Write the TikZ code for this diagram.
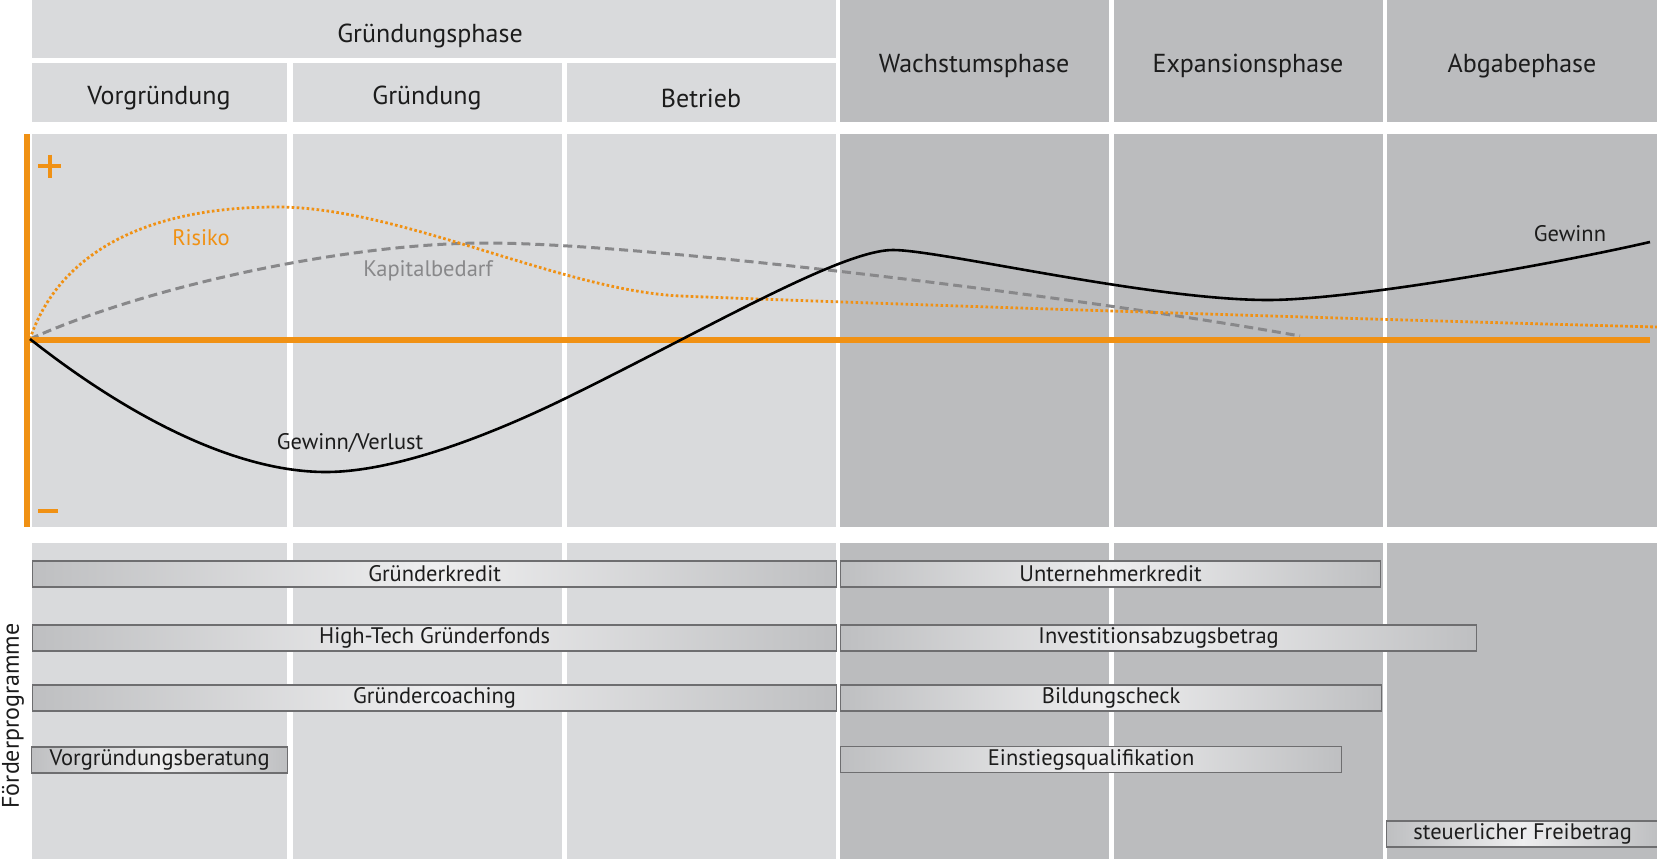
\documentclass[tikz,border=0pt]{standalone}
\usepackage{fontspec}
\setmainfont{PT Sans}
\definecolor{lightcol}{RGB}{217,218,220}
\definecolor{darkcol}{RGB}{187,188,190}
\definecolor{orng}{RGB}{240,145,20}
\definecolor{kgray}{RGB}{136,136,138}
\definecolor{txt}{RGB}{28,28,28}
\definecolor{barend}{RGB}{190,191,193}
\definecolor{barmid}{RGB}{238,238,239}
\definecolor{barline}{RGB}{110,110,112}
\begin{document}
\begin{tikzpicture}[x=1pt,y=-1pt,
  hdr/.style={text=txt,font=\fontsize{26}{28}\selectfont,inner sep=0},
  lbl/.style={font=\fontsize{22.5}{24}\selectfont,inner sep=0},
  bar/.style={draw=barline,line width=1.2pt,left color=barend,right color=barend,middle color=barmid,
     inner sep=0,minimum height=26pt,anchor=west,text=txt,font=\fontsize{22.5}{24}\selectfont},
  axisline/.style={orng,line width=6pt},
  signline/.style={orng,line width=4pt}]
\useasboundingbox (0,0) rectangle (1657,859);
\fill[white] (0,0) rectangle (1657,859);
% header
\fill[lightcol] (32,0) rectangle (836,58);
\fill[lightcol] (32,63) rectangle (287,122);
\fill[lightcol] (293,63) rectangle (562,122);
\fill[lightcol] (567,63) rectangle (836,122);
\fill[darkcol] (840,0) rectangle (1109,122);
\fill[darkcol] (1114,0) rectangle (1383,122);
\fill[darkcol] (1387,0) rectangle (1657,122);
% chart area and lower area
\foreach \ya/\yb in {134/527,543/859}{
  \fill[lightcol] (32,\ya) rectangle (287,\yb);
  \fill[lightcol] (293,\ya) rectangle (562,\yb);
  \fill[lightcol] (567,\ya) rectangle (836,\yb);
  \fill[darkcol] (840,\ya) rectangle (1109,\yb);
  \fill[darkcol] (1114,\ya) rectangle (1383,\yb);
  \fill[darkcol] (1387,\ya) rectangle (1657,\yb);
}
% header texts
\node[hdr] (gp) at (430,36) {Gründungsphase};
\node[hdr] (vg) at (159,98) {Vorgründung};
\node[hdr] (gr) at (427,98) {Gründung};
\node[hdr] (be) at (701,98) {Betrieb};
\node[hdr] (wp) at (974,66) {Wachstumsphase};
\node[hdr] (ep) at (1248,66) {Expansionsphase};
\node[hdr] (ap) at (1522,66) {Abgabephase};
% curves
\coordinate (o) at (30,339);
\draw[kgray,line width=3pt,dash pattern=on 9pt off 5pt]
  (o) .. controls (150,285) and (350,243) .. (486,243)
      .. controls (650,243) and (1100,300) .. (1300,336);
\draw[orng,line width=2.8pt,dash pattern=on 2.6pt off 2.4pt]
  (o) .. controls (60,250) and (150,207) .. (277,207)
      .. controls (400,207) and (560,290) .. (680,296)
      .. controls (750,299) and (1200,315) .. (1657,327);
\draw[axisline] (27,339.5) -- (1650,339.5);
\draw[axisline] (27,134) -- (27,527);
\draw[black,line width=2.6pt]
  (o) .. controls (120,410) and (230,472) .. (326,472)
      .. controls (400,472) and (500,430) .. (560,401)
      .. controls (700,333) and (840,250) .. (893,250)
      .. controls (940,250) and (1150,300) .. (1268,300)
      .. controls (1350,300) and (1550,265) .. (1650,242);
% signs
\draw[signline] (38,166) -- (61,166) (49.5,154.5) -- (49.5,177.5);
\draw[signline] (38,511) -- (58,511);
% curve labels
\node[lbl,text=orng] (ri) at (201,238) {Risiko};
\node[lbl,text=kgray] (kb) at (428,271) {Kapitalbedarf};
\node[lbl,text=txt] (gv) at (350,443) {Gewinn/Verlust};
\node[lbl,text=txt] (gw) at (1570,234) {Gewinn};
% bars
\node[bar,minimum width=804pt] (b1) at (32,574) {Gründerkredit};
\node[bar,minimum width=804pt] (b2) at (32,638) {High-Tech Gründerfonds};
\node[bar,minimum width=804pt] (b3) at (32,698) {Gründercoaching};
\node[bar,minimum width=256pt] (b4) at (31,760) {Vorgründungsberatung};
\node[bar,minimum width=540pt] (b5) at (840,574) {Unternehmerkredit};
\node[bar,minimum width=636pt] (b6) at (840,638) {Investitionsabzugsbetrag};
\node[bar,minimum width=541pt] (b7) at (840,698) {Bildungscheck};
\node[bar,minimum width=501pt] (b8) at (840,759.5) {Einstiegsqualifikation};
\node[bar,minimum width=272pt] (b9) at (1386,834) {steuerlicher Freibetrag};
\node[hdr,rotate=90,font=\fontsize{24}{26}\selectfont] (fp) at (13,716) {Förderprogramme};
\end{tikzpicture}
\end{document}
